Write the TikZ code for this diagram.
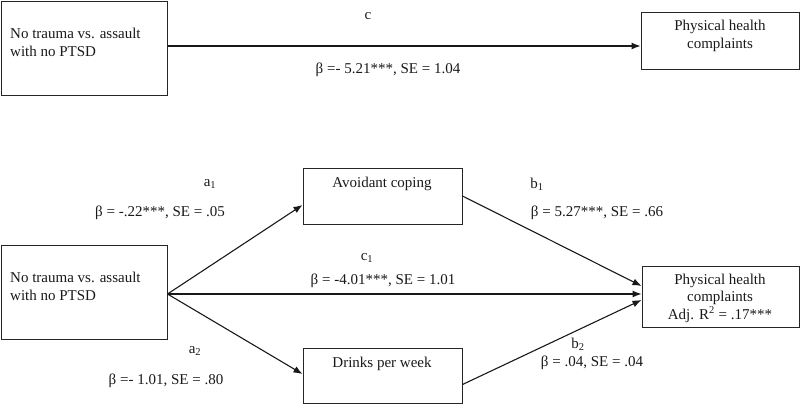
\documentclass[tikz,border=0pt]{standalone}
\usepackage{fontspec}
\setmainfont{Liberation Serif}
\usetikzlibrary{arrows.meta,calc}
\begin{document}
\begin{tikzpicture}[x=1pt,y=-1pt,
  box/.style={draw=black!85,line width=1pt,rectangle,inner sep=0pt},
  txt/.style={inner sep=0pt,font=\fontsize{15}{17.5}\selectfont,text=black!90},
  arr/.style={draw=black!90,line width=1.1pt,-{Latex[length=9pt,width=7pt]}}]
\useasboundingbox (0,0) rectangle (800,405);
% boxes
\node[box,minimum width=166pt,minimum height=94pt] (tl) at (84,48) {};
\node[box,minimum width=158pt,minimum height=57pt] (tr) at (720,40.5) {};
\node[box,minimum width=166pt,minimum height=94pt] (lb) at (84,292) {};
\node[box,minimum width=159pt,minimum height=56pt] (av) at (382.5,196) {};
\node[box,minimum width=159pt,minimum height=55pt] (dr) at (382.5,375.5) {};
\node[box,minimum width=157pt,minimum height=61pt] (rb) at (720.5,296.5) {};
% box texts
\node[txt,anchor=west,align=left] (tlt) at (10,42.5) {No trauma vs. assault\\with no PTSD};
\node[txt,align=center] (trt) at (720,36) {Physical health\\complaints};
\node[txt,anchor=west,align=left] (lbt) at (10,286.5) {No trauma vs. assault\\with no PTSD};
\node[txt] (avt) at (382,184) {Avoidant coping};
\node[txt] (drt) at (382,364) {Drinks per week};
\node[txt,align=center] (rbt) at (720,298) {Physical health\\complaints\\Adj. R\textsuperscript{2} = .17***};
% arrows
\draw[arr] ([yshift=2pt]tl.east) -- ([yshift=2pt]tl.east -| tr.west);
\draw[arr] ([yshift=-2pt]lb.east) -- ([yshift=-2pt]lb.east -| rb.west);
\draw[arr] ([yshift=-2pt]lb.east) -- ([yshift=-9pt]av.west);
\draw[arr] ([yshift=-2pt]lb.east) -- ([yshift=1.5pt]dr.west);
\draw[arr] (av.east) -- ([yshift=10.5pt]rb.west);
\draw[arr] ([yshift=-9pt]dr.east) -- ([yshift=-3.5pt]rb.west);
% labels
\node[txt] (lc) at (368,16) {c};
\node[txt] (lcb) at (388,70) {β =- 5.21***, SE = 1.04};
\node[txt] (la1) at (210,184) {a\textsubscript{1}};
\node[txt] (la1b) at (160,213) {β = -.22***, SE = .05};
\node[txt] (lc1) at (367,258) {c\textsubscript{1}};
\node[txt] (lc1b) at (383,281) {β = -4.01***, SE = 1.01};
\node[txt] (lb1) at (537,184) {b\textsubscript{1}};
\node[txt] (lb1b) at (597,213) {β = 5.27***, SE = .66};
\node[txt] (la2) at (195,351) {a\textsubscript{2}};
\node[txt] (la2b) at (166,381) {β =- 1.01, SE = .80};
\node[txt] (lb2) at (578,344) {b\textsubscript{2}};
\node[txt] (lb2b) at (592,363) {β = .04, SE = .04};
\end{tikzpicture}
\end{document}
